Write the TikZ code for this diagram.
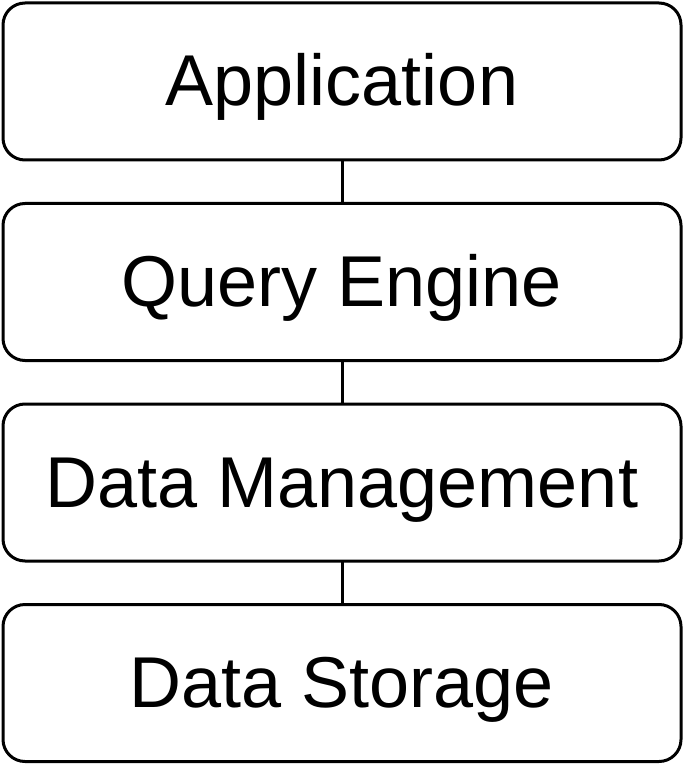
\documentclass[tikz,border=0pt]{standalone}
\usepackage{fontspec}
\setmainfont{Liberation Sans}
\usetikzlibrary{positioning}

\tikzstyle{layer} = [rectangle, draw, line width=1.5pt, rounded corners=11pt, minimum width=339pt, minimum height=78.5pt, outer sep=0pt, text height=24.5pt, text depth=0pt, font=\fontsize{36}{40}\selectfont]
\tikzstyle{link} = [draw, line width=1.5pt]

\begin{document}
\begin{tikzpicture}
        \tikzset{node distance = 21.75pt}
        \useasboundingbox (0,0) rectangle (342pt,-382pt);
        % Stack of layers, top to bottom
        \node (app) at (171pt,-40.75pt) [layer] {Application};
        \node (query) [layer, below=of app] {Query Engine};
        \node (mgmt) [layer, below=of query] {Data Management};
        \node (storage) [layer, below=of mgmt] {Data Storage};
        % Connectors between layers
        \draw[link] (app) -- (query);
        \draw[link] (query) -- (mgmt);
        \draw[link] (mgmt) -- (storage);
    \end{tikzpicture}
\end{document}
